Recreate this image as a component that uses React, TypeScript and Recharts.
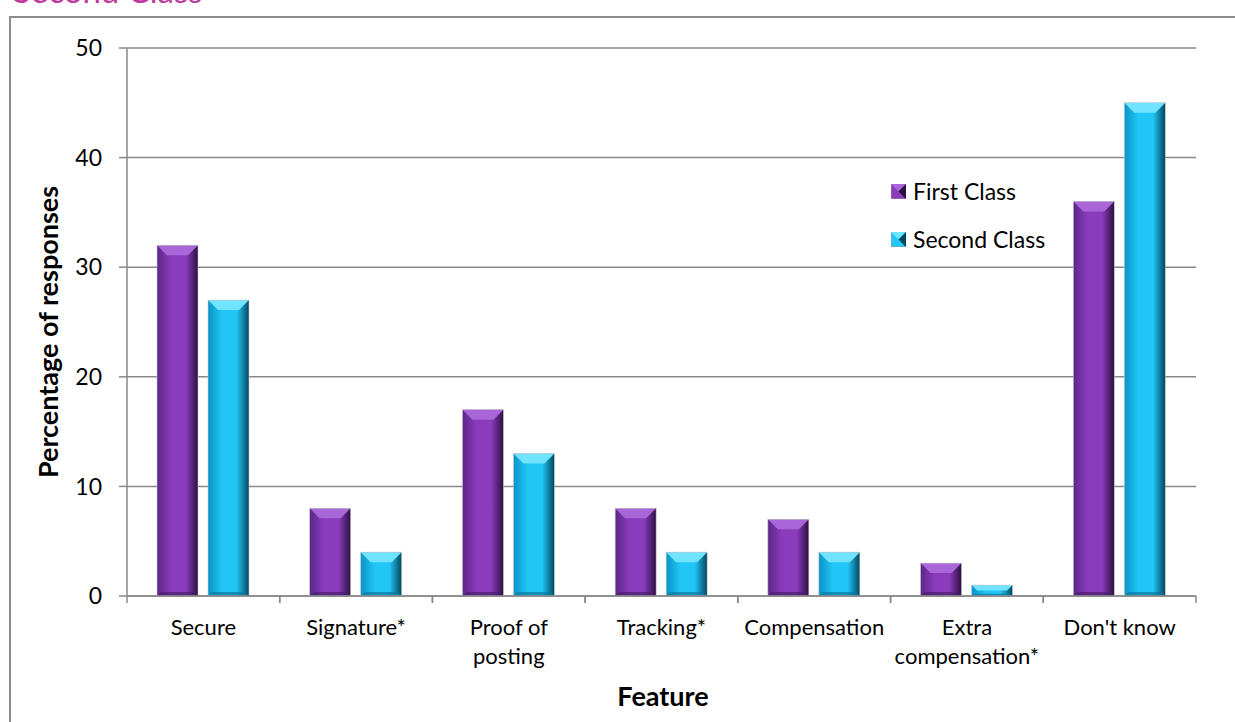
import { BarChart, Bar, XAxis, YAxis, CartesianGrid } from 'recharts';

const categories = [
  'Secure',
  'Signature*',
  'Proof of\nposting',
  'Tracking*',
  'Compensation',
  'Extra\ncompensation*',
  "Don't know",
];
const firstClass = [32, 8, 17, 8, 7, 3, 36];
const secondClass = [27, 4, 13, 4, 4, 1, 45];
const yTicks = [0, 10, 20, 30, 40, 50];

const data = categories.map((name, i) => ({
  name,
  first: firstClass[i],
  second: secondClass[i],
}));

const FONT = 'Lato, "Open Sans", sans-serif';
const W = 1235;
const H = 722;
const PLOT_LEFT = 127;
const PLOT_RIGHT = 1196;
const STEP = (PLOT_RIGHT - PLOT_LEFT) / categories.length;

const palette = {
  first: { left: '#5c2688', mid: '#8a3cbc', right: '#2c0f42', top: '#a866d8', bottom: '#4a1c6c' },
  second: { left: '#0a94c8', mid: '#22c6f6', right: '#00465f', top: '#70e4ff', bottom: '#0578a0' },
};

function BevelBar(props: any) {
  const { x, y, width, height, tone } = props;
  if (!height || height <= 0) return null;
  const c = palette[tone as 'first' | 'second'];
  const b = Math.min(10, height / 2, width / 3);
  return (
    <g>
      <rect x={x} y={y} width={width} height={height} fill={`url(#grad-${tone})`} />
      <polygon
        points={`${x},${y} ${x + width},${y} ${x + width - b},${y + b} ${x + b},${y + b}`}
        fill={c.top}
      />
      <polygon
        points={`${x},${y + height} ${x + width},${y + height} ${x + width - b * 0.4},${y + height - b * 0.4} ${x + b * 0.4},${y + height - b * 0.4}`}
        fill={c.bottom}
        opacity={0.7}
      />
      <rect x={x} y={y} width={width} height={height} fill="none" stroke="#c8c8c8" strokeWidth={0.6} />
    </g>
  );
}

function XTick(props: any) {
  const { x, payload } = props;
  const lines = String(payload.value).split('\n');
  return (
    <g>
      <line x1={x - STEP / 2} y1={596} x2={x - STEP / 2} y2={603} stroke="#888" strokeWidth={1.5} />
      <line x1={x + STEP / 2} y1={596} x2={x + STEP / 2} y2={603} stroke="#888" strokeWidth={1.5} />
      {lines.map((l, i) => (
        <text key={i} x={x} y={635 + i * 29} textAnchor="middle" fontSize={22} fontFamily={FONT} fill="#000">
          {l}
        </text>
      ))}
    </g>
  );
}

function LegendBox() {
  const items = [
    { label: 'First Class', tone: 'first' },
    { label: 'Second Class', tone: 'second' },
  ];
  return (
    <div style={{ position: 'absolute', left: 891, top: 177, fontFamily: FONT, fontSize: 23 }}>
      {items.map((it, i) => {
        const c = palette[it.tone as 'first' | 'second'];
        return (
          <div key={i} style={{ display: 'flex', alignItems: 'center', height: 28, marginBottom: i === 0 ? 20 : 0 }}>
            <svg width={15} height={15} style={{ marginRight: 7 }}>
              <rect x={0} y={0} width={15} height={15} fill={c.mid} stroke="#999" strokeWidth={0.8} />
              <polygon points="0,0 15,0 7.5,7.5" fill={c.top} />
              <polygon points="15,0 15,15 7.5,7.5" fill={c.right} />
            </svg>
            <span>{it.label}</span>
          </div>
        );
      })}
    </div>
  );
}

export default function App() {
  return (
    <div style={{ position: 'absolute', left: 0, top: 0, width: W, height: H, overflow: 'hidden', background: '#fff' }}>
      <div
        style={{
          position: 'absolute',
          left: 9,
          top: 16,
          width: 1260,
          height: 740,
          border: '2px solid #8c8c8c',
          boxSizing: 'border-box',
        }}
      />
      <div style={{ position: 'absolute', left: 0, top: 0 }}>
        <BarChart
          width={W}
          height={H}
          data={data}
          margin={{ top: 48, right: W - PLOT_RIGHT, bottom: 0, left: 0 }}
          barSize={41}
          barGap={10}
        >
          <defs>
            {(['first', 'second'] as const).map((t) => (
              <linearGradient key={t} id={`grad-${t}`} x1="0" y1="0" x2="1" y2="0">
                <stop offset="0%" stopColor={palette[t].left} />
                <stop offset="35%" stopColor={palette[t].mid} />
                <stop offset="70%" stopColor={palette[t].mid} />
                <stop offset="100%" stopColor={palette[t].right} />
              </linearGradient>
            ))}
          </defs>
          <CartesianGrid vertical={false} stroke="#888" strokeWidth={1.5} />
          <XAxis
            dataKey="name"
            height={126}
            interval={0}
            tick={<XTick />}
            tickLine={false}
            axisLine={{ stroke: '#888', strokeWidth: 1.5 }}
          />
          <YAxis
            width={PLOT_LEFT}
            domain={[0, 50]}
            ticks={yTicks}
            interval={0}
            tickSize={8}
            tickMargin={17}
            tick={{ fontSize: 23, fontFamily: FONT, fill: '#000' }}
            tickLine={{ stroke: '#888', strokeWidth: 1.5 }}
            axisLine={{ stroke: '#888', strokeWidth: 1.5 }}
          />
          <Bar dataKey="first" name="First Class" isAnimationActive={false} shape={<BevelBar tone="first" />} />
          <Bar dataKey="second" name="Second Class" isAnimationActive={false} shape={<BevelBar tone="second" />} />
          <text x={13} y={3} fontSize={33} fontFamily={FONT} fill="#c0399f">
            Second Class
          </text>
          <text
            x={58}
            y={332}
            transform="rotate(-90 58 332)"
            textAnchor="middle"
            fontSize={27}
            fontWeight="bold"
            fontFamily={FONT}
            fill="#000"
          >
            Percentage of responses
          </text>
          <text
            x={663}
            y={706}
            textAnchor="middle"
            fontSize={27}
            fontWeight="bold"
            fontFamily={FONT}
            fill="#000"
          >
            Feature
          </text>
        </BarChart>
      </div>
      <LegendBox />
    </div>
  );
}
